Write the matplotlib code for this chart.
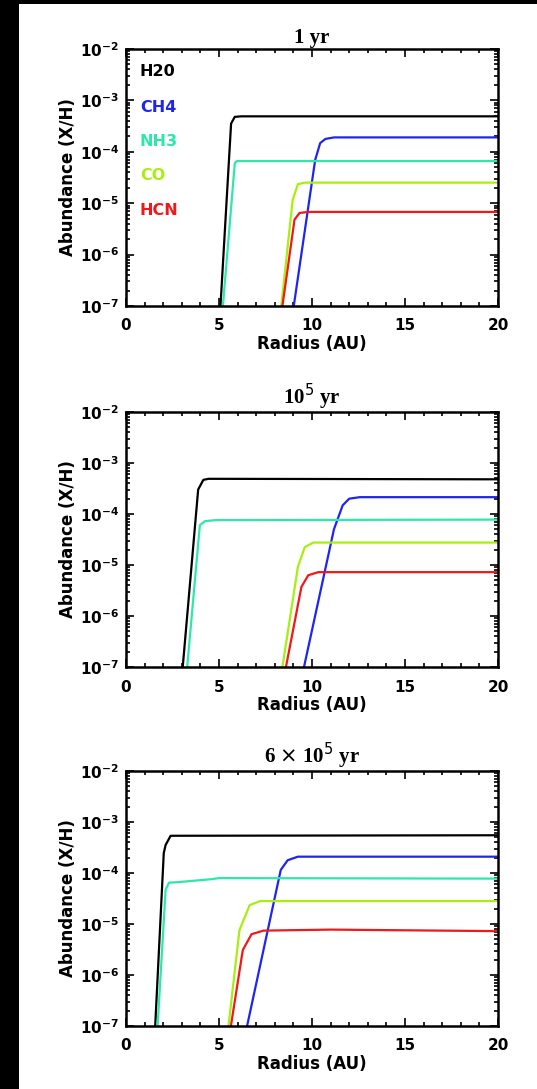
import numpy as np
import matplotlib
matplotlib.use("Agg")
import matplotlib.pyplot as plt
from matplotlib.ticker import LogLocator, MultipleLocator, NullFormatter
from matplotlib.patches import Rectangle

# species and colours
species = ['H20', 'CH4', 'NH3', 'CO', 'HCN']
colors = ['black', '#1f25f0', '#2de8a8', '#a8ee10', '#f01818']
titles = ['1 yr', r'10$^5$ yr', r'6 $\times$ 10$^5$ yr']

# radius (AU) knots and log10 abundance
# panel 1: 1 yr
p1_h2o_r = [5.08, 5.65, 5.85, 6.2, 20.0]
p1_h2o_y = [-7.0, -3.45, -3.32, -3.31, -3.31]
p1_ch4_r = [9.02, 10.17, 10.44, 10.72, 11.18, 20.0]
p1_ch4_y = [-7.0, -4.16, -3.83, -3.75, -3.72, -3.72]
p1_nh3_r = [5.21, 5.85, 5.95, 20.0]
p1_nh3_y = [-7.0, -4.22, -4.18, -4.18]
p1_co_r = [8.35, 8.96, 9.24, 9.61, 20.0]
p1_co_y = [-7.0, -4.94, -4.63, -4.60, -4.60]
p1_hcn_r = [8.41, 9.06, 9.33, 9.8, 20.0]
p1_hcn_y = [-7.0, -5.32, -5.19, -5.17, -5.17]

# panel 2: 1e5 yr
p2_h2o_r = [3.05, 3.88, 4.16, 4.44, 20.0]
p2_h2o_y = [-7.0, -3.52, -3.33, -3.31, -3.32]
p2_ch4_r = [9.57, 11.18, 11.65, 12.0, 12.57, 20.0]
p2_ch4_y = [-7.0, -4.30, -3.83, -3.70, -3.67, -3.67]
p2_nh3_r = [3.29, 3.97, 4.25, 4.8, 20.0]
p2_nh3_y = [-7.0, -4.22, -4.14, -4.12, -4.11]
p2_co_r = [8.41, 9.24, 9.61, 10.07, 20.0]
p2_co_y = [-7.0, -5.04, -4.65, -4.56, -4.56]
p2_hcn_r = [8.6, 9.43, 9.8, 10.35, 20.0]
p2_hcn_y = [-7.0, -5.43, -5.20, -5.14, -5.14]

# panel 3: 6e5 yr
p3_h2o_r = [1.57, 2.03, 2.13, 2.4, 20.0]
p3_h2o_y = [-7.0, -3.61, -3.45, -3.27, -3.26]
p3_ch4_r = [6.51, 8.32, 8.69, 9.24, 20.0]
p3_ch4_y = [-7.0, -3.94, -3.75, -3.68, -3.68]
p3_nh3_r = [1.70, 2.13, 2.31, 2.77, 3.7, 4.62, 5.0, 20.0]
p3_nh3_y = [-7.0, -4.33, -4.19, -4.18, -4.15, -4.12, -4.10, -4.11]
p3_co_r = [5.51, 6.1, 6.65, 7.21, 20.0]
p3_co_y = [-7.0, -5.12, -4.63, -4.55, -4.55]
p3_hcn_r = [5.64, 6.28, 6.75, 7.39, 11.0, 20.0]
p3_hcn_y = [-7.0, -5.51, -5.20, -5.13, -5.11, -5.14]

panels = [
    [(p1_h2o_r, p1_h2o_y), (p1_ch4_r, p1_ch4_y), (p1_nh3_r, p1_nh3_y),
     (p1_co_r, p1_co_y), (p1_hcn_r, p1_hcn_y)],
    [(p2_h2o_r, p2_h2o_y), (p2_ch4_r, p2_ch4_y), (p2_nh3_r, p2_nh3_y),
     (p2_co_r, p2_co_y), (p2_hcn_r, p2_hcn_y)],
    [(p3_h2o_r, p3_h2o_y), (p3_ch4_r, p3_ch4_y), (p3_nh3_r, p3_nh3_y),
     (p3_co_r, p3_co_y), (p3_hcn_r, p3_hcn_y)],
]

W, H = 537, 1089
fig = plt.figure(figsize=(W / 100, H / 100), dpi=100)
fig.patch.set_facecolor('white')
# black border strips of the scanned figure
fig.patches.append(Rectangle((0, 0), 19 / W, 1, transform=fig.transFigure,
                             facecolor='black', edgecolor='none', zorder=0))
fig.patches.append(Rectangle((0, 1 - 4 / H), 1, 4 / H, transform=fig.transFigure,
                             facecolor='black', edgecolor='none', zorder=0))

left = 126 / W
width = 372 / W
tops = [49, 412, 771]
bottoms = [306, 667, 1026]

for i in range(3):
    ax = fig.add_axes([left, 1 - bottoms[i] / H, width, (bottoms[i] - tops[i]) / H])
    for (r, ly), c in zip(panels[i], colors):
        ax.plot(r, 10 ** np.array(ly), color=c, lw=1.6, solid_joinstyle='round')
    ax.set_yscale('log')
    ax.set_xlim(0, 20)
    ax.set_ylim(1e-7, 1e-2)
    ax.xaxis.set_major_locator(MultipleLocator(5))
    ax.xaxis.set_minor_locator(MultipleLocator(1))
    ax.yaxis.set_major_locator(LogLocator(base=10, numticks=10))
    ax.yaxis.set_minor_locator(LogLocator(base=10, subs=np.arange(2, 10), numticks=10))
    ax.yaxis.set_minor_formatter(NullFormatter())
    ax.tick_params(which='both', direction='in', top=True, right=True, width=1.2)
    ax.tick_params(which='major', length=6, labelsize=11)
    ax.tick_params(axis='x', which='major', pad=9)
    ax.tick_params(axis='y', which='major', pad=5)
    ax.tick_params(which='minor', length=3)
    for sp in ax.spines.values():
        sp.set_linewidth(1.8)
    for lab in ax.get_xticklabels() + ax.get_yticklabels():
        lab.set_fontweight('bold')
    ax.set_xlabel('Radius (AU)', fontsize=12, fontweight='bold', labelpad=1)
    ax.set_ylabel('Abundance (X/H)', fontsize=12, fontweight='bold', labelpad=2)
    ax.set_title(titles[i], fontsize=15, family='Liberation Serif', fontweight='bold', pad=4)
    if i == 0:
        ypos = [0.913, 0.774, 0.64, 0.508, 0.371]
        for s, c, yy in zip(species, colors, ypos):
            ax.text(0.037, yy, s, color=c, transform=ax.transAxes, fontsize=11.5,
                    fontweight='bold', va='center', ha='left')

fig.savefig('out.png', dpi=100)
